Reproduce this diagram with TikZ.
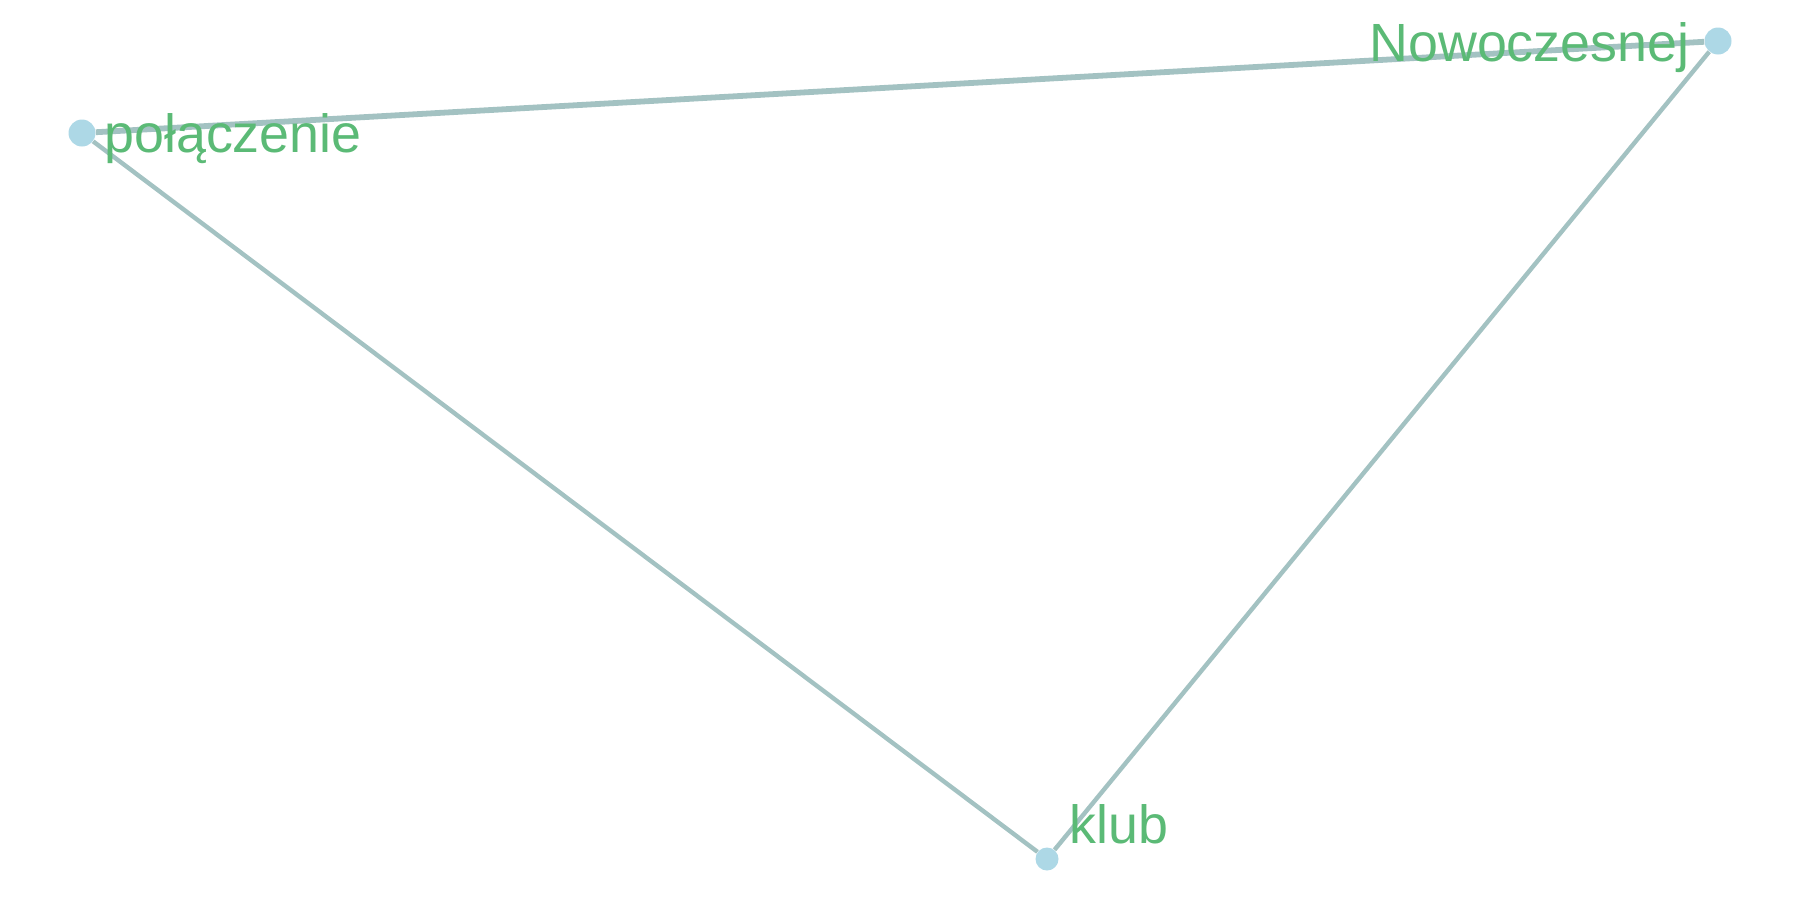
\documentclass[tikz,border=0pt]{standalone}
\usepackage{fontspec}
\setmainfont{Liberation Sans}
\definecolor{vertexblue}{HTML}{ADD8E6}
\definecolor{linkgray}{HTML}{A3C2C2}
\definecolor{wordgreen}{HTML}{5BBA76}

\begin{document}
\begin{tikzpicture}[x=0.5pt,y=-0.5pt,
              vertex/.style={circle,fill=vertexblue,inner sep=0pt},
              word/.style={text=wordgreen,inner sep=0pt,anchor=base west,
              font=\fontsize{26.9}{30}\selectfont},
              every edge/.style={draw=linkgray,line width=2.2pt}]
    \useasboundingbox (0,0) rectangle (1800,900);

    \node[vertex,minimum size=13.5pt] (pol) at (82,133) {};
    \node[vertex,minimum size=13.5pt] (now) at (1718,41) {};
    \node[vertex,minimum size=11.5pt] (klub) at (1047,859) {};

    \path (pol) edge[line width=2.9pt] (now);
    \path (pol) edge (klub);
    \path (now) edge (klub);

    \node[word] (polw) at (104,152) {połączenie};
    \node[word] (noww) at (1369,61) {Nowoczesnej};
    \node[word] (klubw) at (1069,843) {klub};
\end{tikzpicture}
\end{document}
